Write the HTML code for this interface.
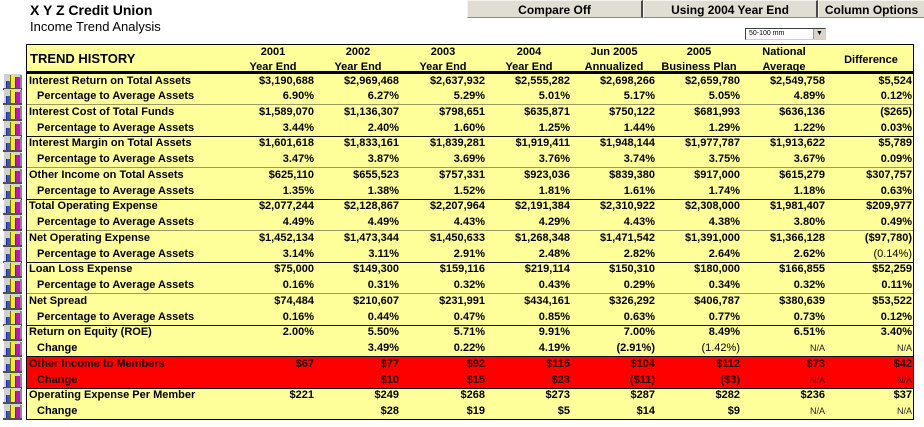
<!DOCTYPE html>
<html>
<head>
<meta charset="utf-8">
<style>
html,body{margin:0;padding:0}
body{width:924px;height:427px;position:relative;overflow:hidden;background:#fff;font-family:"Liberation Sans",Arial,sans-serif;color:#000}
.t1{position:absolute;left:30px;top:2px;font-size:14px;font-weight:bold;line-height:17px}
.t2{position:absolute;left:30px;top:19px;font-size:13px;line-height:16px}
.btn{position:absolute;top:0;height:18px;line-height:18px;background:#e0ddd2;border-top:1px solid #f4f2ea;border-left:1px solid #f4f2ea;border-right:2px solid #4a4a4a;border-bottom:1px solid #8a8a8a;text-align:center;font-size:12px;font-weight:bold;box-sizing:border-box}
.sel{position:absolute;left:745px;top:28px;width:81px;height:12px;background:#fff;border-top:1px solid #404040;border-left:1px solid #404040;border-right:1px solid #d0d0d0;border-bottom:1px solid #d0d0d0;box-sizing:border-box;font-size:7px;line-height:10px;padding-left:3px}
.sel .ar{position:absolute;right:0;top:0;width:11px;height:10px;background:#d8d5cc;border-left:1px solid #999;font-size:7px;line-height:10px;text-align:center}
.tbl{position:absolute;left:26px;top:44px;width:888px;height:376px;background:#ffff99}
.bord{position:absolute;left:26px;top:44px;width:888px;height:376px;border:1px solid #000;box-sizing:border-box}
.hd{position:absolute;font-size:11px;font-weight:bold;line-height:14.5px;text-align:center;white-space:nowrap}
.th{position:absolute;left:30px;top:50px;font-size:13px;font-weight:bold;line-height:17px}
.thick{position:absolute;left:26px;top:71px;width:888px;height:2.5px;background:#000}
.r{position:absolute;left:26px;width:888px;height:15.75px;line-height:15.75px;font-size:11px;font-weight:bold;white-space:nowrap}
.r span{position:absolute;top:0}
.red{background:#ff0000;color:#1a0000}
.l{left:3px}.l2{left:11px}
.a{right:600px}.b{right:515px}.c{right:429px}.d{right:344px}.e{right:259px}.f{right:174px}.g{right:89px}.h{right:2px}
.na{font-weight:normal;font-size:9px;color:#222}
.red .na{color:#5a0000}
.nb{font-weight:normal}
.ic{position:absolute;left:-24px !important;top:0px !important;width:21px;height:16px;background:
linear-gradient(#1a2a90,#1a2a90) 4px 7px/1px 7px no-repeat,
linear-gradient(#3a50d8,#3a50d8) 5px 7px/3px 7px no-repeat,
linear-gradient(#707000,#707000) 8px 1px/1px 13px no-repeat,
linear-gradient(#f4f400,#f4f400) 9px 1px/4px 13px no-repeat,
linear-gradient(#600070,#600070) 13px 3px/1px 11px no-repeat,
linear-gradient(#c010d0,#c010d0) 14px 3px/4px 11px no-repeat,
linear-gradient(#505050,#505050) 1px 14px/19px 2px no-repeat,
linear-gradient(#8a8a8a,#8a8a8a) 18px 1px/2px 13px no-repeat,
linear-gradient(#cfcfd6,#cfcfd6) 2px 0/17px 14px no-repeat}
.ln{position:absolute;left:26px;width:888px;height:1px}
.gy{background:#9a9a66}
.bk{background:#111}
</style>
</head>
<body>
<div class="t1">X Y Z Credit Union</div>
<div class="t2">Income Trend Analysis</div>

<div class="btn" style="left:467px;width:176px">Compare Off</div>
<div class="btn" style="left:643px;width:175px">Using 2004 Year End</div>
<div class="btn" style="left:818px;width:106px;border-right:none">Column Options</div>

<div class="sel">50-100 mm<div class="ar">&#9660;</div></div>

<div class="tbl"></div>

<div class="th">TREND HISTORY</div>
<div class="hd" style="left:230px;top:45px;width:86px">2001<br>Year End</div>
<div class="hd" style="left:315px;top:45px;width:86px">2002<br>Year End</div>
<div class="hd" style="left:400px;top:45px;width:86px">2003<br>Year End</div>
<div class="hd" style="left:486px;top:45px;width:86px">2004<br>Year End</div>
<div class="hd" style="left:571px;top:45px;width:86px">Jun 2005<br>Annualized</div>
<div class="hd" style="left:656px;top:45px;width:86px">2005<br>Business Plan</div>
<div class="hd" style="left:741px;top:45px;width:86px">National<br>Average</div>
<div class="hd" style="left:827px;top:53px;width:88px">Difference</div>
<div class="thick"></div>

<!-- group 0 -->
<div class="r" style="top:73.5px"><span class="ic"></span><span class="l">Interest Return on Total Assets</span><span class="a">$3,190,688</span><span class="b">$2,969,468</span><span class="c">$2,637,932</span><span class="d">$2,555,282</span><span class="e">$2,698,266</span><span class="f">$2,659,780</span><span class="g">$2,549,758</span><span class="h">$5,524</span></div>
<div class="r" style="top:89.25px"><span class="ic"></span><span class="l2">Percentage to Average Assets</span><span class="a">6.90%</span><span class="b">6.27%</span><span class="c">5.29%</span><span class="d">5.01%</span><span class="e">5.17%</span><span class="f">5.05%</span><span class="g">4.89%</span><span class="h">0.12%</span></div>
<!-- group 1 -->
<div class="r" style="top:104.75px"><span class="ic"></span><span class="l">Interest Cost of Total Funds</span><span class="a">$1,589,070</span><span class="b">$1,136,307</span><span class="c">$798,651</span><span class="d">$635,871</span><span class="e">$750,122</span><span class="f">$681,993</span><span class="g">$636,136</span><span class="h">($265)</span></div>
<div class="r" style="top:120.5px"><span class="ic"></span><span class="l2">Percentage to Average Assets</span><span class="a">3.44%</span><span class="b">2.40%</span><span class="c">1.60%</span><span class="d">1.25%</span><span class="e">1.44%</span><span class="f">1.29%</span><span class="g">1.22%</span><span class="h">0.03%</span></div>
<!-- group 2 -->
<div class="r" style="top:136.25px"><span class="ic"></span><span class="l">Interest Margin on Total Assets</span><span class="a">$1,601,618</span><span class="b">$1,833,161</span><span class="c">$1,839,281</span><span class="d">$1,919,411</span><span class="e">$1,948,144</span><span class="f">$1,977,787</span><span class="g">$1,913,622</span><span class="h">$5,789</span></div>
<div class="r" style="top:152px"><span class="ic"></span><span class="l2">Percentage to Average Assets</span><span class="a">3.47%</span><span class="b">3.87%</span><span class="c">3.69%</span><span class="d">3.76%</span><span class="e">3.74%</span><span class="f">3.75%</span><span class="g">3.67%</span><span class="h">0.09%</span></div>
<!-- group 3 -->
<div class="r" style="top:167.75px"><span class="ic"></span><span class="l">Other Income on Total Assets</span><span class="a">$625,110</span><span class="b">$655,523</span><span class="c">$757,331</span><span class="d">$923,036</span><span class="e">$839,380</span><span class="f">$917,000</span><span class="g">$615,279</span><span class="h">$307,757</span></div>
<div class="r" style="top:183.5px"><span class="ic"></span><span class="l2">Percentage to Average Assets</span><span class="a">1.35%</span><span class="b">1.38%</span><span class="c">1.52%</span><span class="d">1.81%</span><span class="e">1.61%</span><span class="f">1.74%</span><span class="g">1.18%</span><span class="h">0.63%</span></div>
<!-- group 4 -->
<div class="r" style="top:199.25px"><span class="ic"></span><span class="l">Total Operating Expense</span><span class="a">$2,077,244</span><span class="b">$2,128,867</span><span class="c">$2,207,964</span><span class="d">$2,191,384</span><span class="e">$2,310,922</span><span class="f">$2,308,000</span><span class="g">$1,981,407</span><span class="h">$209,977</span></div>
<div class="r" style="top:215px"><span class="ic"></span><span class="l2">Percentage to Average Assets</span><span class="a">4.49%</span><span class="b">4.49%</span><span class="c">4.43%</span><span class="d">4.29%</span><span class="e">4.43%</span><span class="f">4.38%</span><span class="g">3.80%</span><span class="h">0.49%</span></div>
<!-- group 5 -->
<div class="r" style="top:230.75px"><span class="ic"></span><span class="l">Net Operating Expense</span><span class="a">$1,452,134</span><span class="b">$1,473,344</span><span class="c">$1,450,633</span><span class="d">$1,268,348</span><span class="e">$1,471,542</span><span class="f">$1,391,000</span><span class="g">$1,366,128</span><span class="h">($97,780)</span></div>
<div class="r" style="top:246.5px"><span class="ic"></span><span class="l2">Percentage to Average Assets</span><span class="a">3.14%</span><span class="b">3.11%</span><span class="c">2.91%</span><span class="d">2.48%</span><span class="e">2.82%</span><span class="f">2.64%</span><span class="g">2.62%</span><span class="h nb">(0.14%)</span></div>
<!-- group 6 -->
<div class="r" style="top:262.25px"><span class="ic"></span><span class="l">Loan Loss Expense</span><span class="a">$75,000</span><span class="b">$149,300</span><span class="c">$159,116</span><span class="d">$219,114</span><span class="e">$150,310</span><span class="f">$180,000</span><span class="g">$166,855</span><span class="h">$52,259</span></div>
<div class="r" style="top:278px"><span class="ic"></span><span class="l2">Percentage to Average Assets</span><span class="a">0.16%</span><span class="b">0.31%</span><span class="c">0.32%</span><span class="d">0.43%</span><span class="e">0.29%</span><span class="f">0.34%</span><span class="g">0.32%</span><span class="h">0.11%</span></div>
<!-- group 7 -->
<div class="r" style="top:293.75px"><span class="ic"></span><span class="l">Net Spread</span><span class="a">$74,484</span><span class="b">$210,607</span><span class="c">$231,991</span><span class="d">$434,161</span><span class="e">$326,292</span><span class="f">$406,787</span><span class="g">$380,639</span><span class="h">$53,522</span></div>
<div class="r" style="top:309.5px"><span class="ic"></span><span class="l2">Percentage to Average Assets</span><span class="a">0.16%</span><span class="b">0.44%</span><span class="c">0.47%</span><span class="d">0.85%</span><span class="e">0.63%</span><span class="f">0.77%</span><span class="g">0.73%</span><span class="h">0.12%</span></div>
<!-- group 8 -->
<div class="r" style="top:325.25px"><span class="ic"></span><span class="l">Return on Equity (ROE)</span><span class="a">2.00%</span><span class="b">5.50%</span><span class="c">5.71%</span><span class="d">9.91%</span><span class="e">7.00%</span><span class="f">8.49%</span><span class="g">6.51%</span><span class="h">3.40%</span></div>
<div class="r" style="top:341px"><span class="ic"></span><span class="l2">Change</span><span class="b">3.49%</span><span class="c">0.22%</span><span class="d">4.19%</span><span class="e">(2.91%)</span><span class="f nb">(1.42%)</span><span class="g na">N/A</span><span class="h na">N/A</span></div>
<!-- group 9 red -->
<div class="r red" style="top:356.75px"><span class="ic"></span><span class="l">Other Income to Members</span><span class="a">$67</span><span class="b">$77</span><span class="c">$92</span><span class="d">$115</span><span class="e">$104</span><span class="f">$112</span><span class="g">$73</span><span class="h">$42</span></div>
<div class="r red" style="top:372.5px"><span class="ic"></span><span class="l2">Change</span><span class="b">$10</span><span class="c">$15</span><span class="d">$23</span><span class="e">($11)</span><span class="f">($3)</span><span class="g na">N/A</span><span class="h na">N/A</span></div>
<!-- group 10 -->
<div class="r" style="top:388.25px"><span class="ic"></span><span class="l">Operating Expense Per Member</span><span class="a">$221</span><span class="b">$249</span><span class="c">$268</span><span class="d">$273</span><span class="e">$287</span><span class="f">$282</span><span class="g">$236</span><span class="h">$37</span></div>
<div class="r" style="top:404px"><span class="ic"></span><span class="l2">Change</span><span class="b">$28</span><span class="c">$19</span><span class="d">$5</span><span class="e">$14</span><span class="f">$9</span><span class="g na">N/A</span><span class="h na">N/A</span></div>

<div class="ln gy" style="top:104px"></div>
<div class="ln bk" style="top:136px"></div>
<div class="ln gy" style="top:167px"></div>
<div class="ln bk" style="top:199px"></div>
<div class="ln gy" style="top:230px"></div>
<div class="ln bk" style="top:262px"></div>
<div class="ln gy" style="top:293px"></div>
<div class="ln bk" style="top:325px"></div>
<div class="ln bk" style="top:356px"></div>
<div class="ln bk" style="top:388px"></div>

<div class="bord"></div>
</body>
</html>
